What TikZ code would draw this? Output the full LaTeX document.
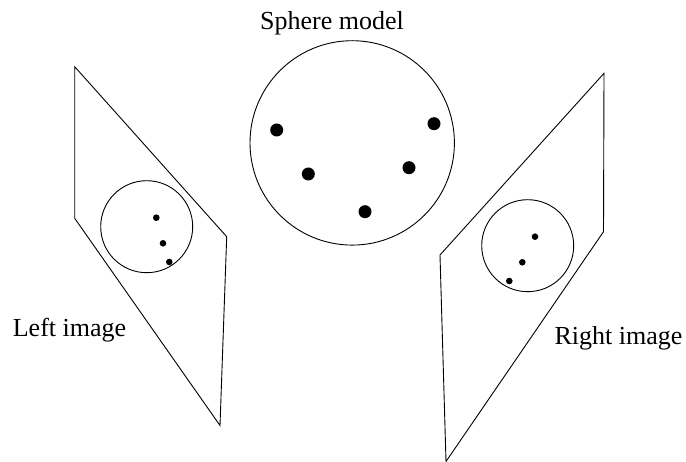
\documentclass[tikz,border=0pt]{standalone}
\usepackage{fontspec}
\setmainfont{Liberation Serif}
\usepackage{xcolor}
\usepackage{tikz}
\definecolor{InkBlack}{HTML}{000000}

\begin{document}
\begin{tikzpicture}[x=1pt, y=-1pt, line width=0.9pt,
    imagelabel/.style={anchor=base, inner sep=0pt, font=\fontsize{26}{30}\selectfont}]
    \useasboundingbox (0,0) rectangle (686,462);
    % sphere model
    \draw[InkBlack] (352.2,142.9) circle (102.2);
    \fill[InkBlack] (276.7,130) circle (6.5);
    \fill[InkBlack] (308.3,174) circle (6.5);
    \fill[InkBlack] (365,211.7) circle (6.5);
    \fill[InkBlack] (409,167.7) circle (6.5);
    \fill[InkBlack] (434,123.7) circle (6.5);
    \node[imagelabel] (sphereLabel) at (332,30) {Sphere model};
    % left image plane
    \draw[InkBlack] (74.7,66.7) -- (226.7,236.7) -- (220,425.5) -- (74.7,218.3) -- cycle;
    \draw[InkBlack] (146.7,226.7) circle (46);
    \fill[InkBlack] (156.3,217.7) circle (3.3);
    \fill[InkBlack] (163,243.3) circle (3.3);
    \fill[InkBlack] (169.3,262) circle (3.3);
    \node[imagelabel] (leftLabel) at (69.5,337) {Left image};
    % right image plane
    \draw[InkBlack] (604,73.3) -- (603.5,231.7) -- (446,461.5) -- (440,255) -- cycle;
    \draw[InkBlack] (527.7,245.7) circle (46);
    \fill[InkBlack] (535,236.7) circle (3.3);
    \fill[InkBlack] (522.3,262.3) circle (3.3);
    \fill[InkBlack] (509.3,281) circle (3.3);
    \node[imagelabel] (rightLabel) at (618.5,345) {Right image};
  \end{tikzpicture}
\end{document}
